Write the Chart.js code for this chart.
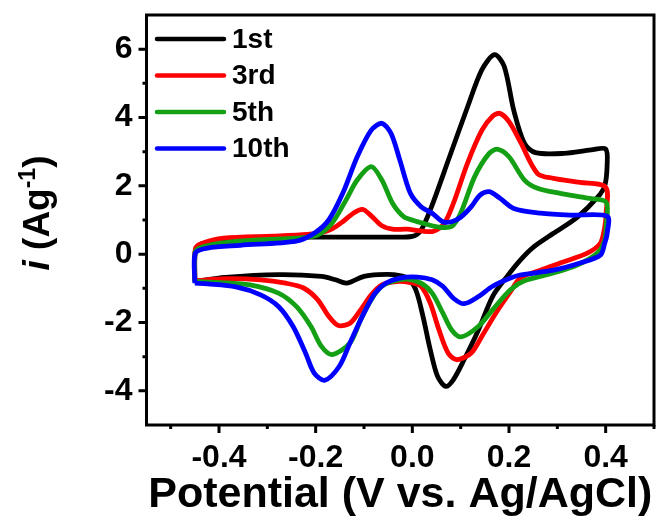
<!DOCTYPE html>
<html lang="en">
<head>
    <meta charset="UTF-8">
    <title>CV cycles</title>
    <style>
        body {
            margin: 0;
            background-color: #fff;
        }
        #chart-container {
            width: 662px;
            height: 521px;
        }
    </style>
    <script src="https://cdn.jsdelivr.net/npm/chart.js"></script>
</head>
<body>
    <div id="chart-container">
        <canvas id="cvChart" width="662" height="521"></canvas>
    </div>

    <script>
        // Potential (V) and current density (A/g), one closed loop per cycle:
        // forward sweep -0.45 -> 0.4 V, then back to -0.45 V
        const v1st = [-0.45, -0.449, -0.44, -0.41, -0.35, -0.25, -0.15, -0.05, 0.0, 0.018, 0.04, 0.077, 0.114, 0.144, 0.17, 0.19, 0.21, 0.232, 0.255, 0.314, 0.37, 0.4, 0.403, 0.398,
            0.383, 0.341, 0.292, 0.25, 0.223, 0.196, 0.166, 0.137, 0.107, 0.085, 0.069, 0.052, 0.037, 0.022, 0.007, -0.011, -0.04, -0.07, -0.1, -0.125, -0.137, -0.159, -0.188, -0.277, -0.387, -0.45];
        const i1st = [-0.80, 0.10, 0.28, 0.38, 0.45, 0.5, 0.5, 0.5, 0.52, 0.7, 1.4, 2.85, 4.3, 5.4, 5.84, 5.5, 4.2, 3.24, 2.97, 2.95, 3.05, 3.08, 2.6, 2.0,
            1.66, 1.08, 0.61, 0.2, -0.18, -0.65, -1.24, -2.21, -3.09, -3.67, -3.87, -3.57, -2.79, -1.82, -1.04, -0.70, -0.6, -0.6, -0.65, -0.8, -0.85, -0.75, -0.65, -0.6, -0.68, -0.80];

        const v3rd = [-0.45, -0.449, -0.438, -0.39, -0.287, -0.217, -0.188, -0.165, -0.144, -0.122, -0.103, -0.085, -0.063, -0.041, -0.011, 0.018, 0.044, 0.066, 0.085, 0.114, 0.144, 0.166, 0.181, 0.2, 0.223, 0.259, 0.292, 0.347, 0.4, 0.401, 0.398,
            0.389, 0.362, 0.312, 0.265, 0.223, 0.203, 0.173, 0.144, 0.122, 0.092, 0.074, 0.055, 0.037, 0.018, -0.004, -0.033, -0.063, -0.085, -0.107, -0.129, -0.153, -0.173, -0.196, -0.225, -0.262, -0.314, -0.387, -0.45];
        const i3rd = [-0.78, 0.15, 0.3, 0.47, 0.53, 0.58, 0.63, 0.75, 0.95, 1.2, 1.31, 1.12, 0.83, 0.73, 0.73, 0.68, 0.67, 0.9, 1.49, 2.66, 3.63, 4.04, 4.12, 3.88, 3.3, 2.36, 2.22, 2.1, 1.96, 1.2, 0.79,
            0.32, 0.03, -0.23, -0.47, -0.7, -1.1, -1.72, -2.4, -2.89, -3.09, -2.89, -2.21, -1.43, -0.94, -0.83, -0.8, -0.9, -1.19, -1.63, -2.02, -2.09, -1.82, -1.33, -0.99, -0.85, -0.75, -0.72, -0.78];

        const v5th = [-0.45, -0.449, -0.432, -0.387, -0.314, -0.24, -0.196, -0.166, -0.137, -0.114, -0.085, -0.063, -0.041, -0.018, 0.004, 0.026, 0.055, 0.081, 0.1, 0.129, 0.159, 0.177, 0.2, 0.232, 0.259, 0.306, 0.362, 0.401, 0.401, 0.398,
            0.383, 0.341, 0.292, 0.232, 0.203, 0.166, 0.137, 0.101, 0.081, 0.063, 0.041, 0.018, -0.011, -0.041, -0.063, -0.085, -0.107, -0.129, -0.166, -0.188, -0.21, -0.24, -0.277, -0.336, -0.395, -0.45];
        const i5th = [-0.8, 0.08, 0.22, 0.34, 0.42, 0.47, 0.56, 0.91, 1.59, 2.17, 2.56, 2.17, 1.49, 1.1, 0.98, 0.89, 0.79, 0.81, 1.2, 2.27, 2.95, 3.07, 2.85, 2.17, 1.93, 1.78, 1.64, 1.52, 0.8, 0.41,
            0.03, -0.32, -0.55, -0.78, -1.04, -1.63, -2.11, -2.42, -2.21, -1.72, -1.14, -0.85, -0.73, -0.8, -0.94, -1.33, -1.92, -2.6, -2.94, -2.7, -2.11, -1.53, -1.14, -0.9, -0.83, -0.8];

        const v10th = [-0.45, -0.449, -0.424, -0.356, -0.24, -0.203, -0.173, -0.144, -0.114, -0.085, -0.063, -0.044, -0.026, -0.004, 0.018, 0.041, 0.063, 0.081, 0.1, 0.122, 0.14, 0.159, 0.181, 0.21, 0.265, 0.327, 0.403, 0.403, 0.398,
            0.389, 0.347, 0.292, 0.223, 0.203, 0.166, 0.137, 0.107, 0.085, 0.063, 0.041, 0.011, -0.026, -0.055, -0.077, -0.1, -0.129, -0.151, -0.181, -0.203, -0.221, -0.247, -0.277, -0.314, -0.365, -0.424, -0.45];
        const i10th = [-0.85, 0.03, 0.18, 0.26, 0.38, 0.61, 1.0, 1.78, 2.85, 3.63, 3.83, 3.53, 2.76, 1.78, 1.39, 1.2, 0.95, 0.95, 1.08, 1.39, 1.73, 1.83, 1.64, 1.34, 1.2, 1.14, 1.11, 0.6, 0.32,
            -0.03, -0.26, -0.47, -0.61, -0.7, -0.94, -1.24, -1.45, -1.29, -0.94, -0.75, -0.67, -0.7, -0.85, -1.14, -1.72, -2.6, -3.28, -3.69, -3.48, -2.89, -2.11, -1.53, -1.19, -0.96, -0.87, -0.85];

        const cycleLabels = ['1st', '3rd', '5th', '10th'];
        const cycleColors = ['#000000', '#ff0000', '#14a014', '#0000ff'];

        const xMajor = [-0.4, -0.2, 0.0, 0.2, 0.4];
        const xMinor = [-0.5, -0.3, -0.1, 0.1, 0.3, 0.5];
        const xTickLabels = ['-0.4', '-0.2', '0.0', '0.2', '0.4'];
        const yMajor = [-4, -2, 0, 2, 4, 6];
        const yMinor = [-3, -1, 1, 3, 5];
        const yTickLabels = ['-4', '-2', '0', '2', '4', '6'];

        const FONT = 'Arial, "Liberation Sans", sans-serif';

        function toPoints(vs, is) {
            return vs.map((v, k) => ({ x: v, y: is[k] }));
        }

        const series = [[v1st, i1st], [v3rd, i3rd], [v5th, i5th], [v10th, i10th]];

        // frame box + outward ticks (major long, minor short)
        const framePlugin = {
            id: 'frame',
            afterDraw(chart) {
                const { ctx, chartArea: a, scales: { x, y } } = chart;
                ctx.save();
                ctx.strokeStyle = '#000';
                ctx.lineWidth = 3;
                ctx.strokeRect(a.left, a.top, a.right - a.left, a.bottom - a.top);
                ctx.beginPath();
                xMajor.forEach(v => { const px = x.getPixelForValue(v); ctx.moveTo(px, a.bottom); ctx.lineTo(px, a.bottom + 8); });
                xMinor.forEach(v => { const px = x.getPixelForValue(v); ctx.moveTo(px, a.bottom); ctx.lineTo(px, a.bottom + 4); });
                yMajor.forEach(v => { const py = y.getPixelForValue(v); ctx.moveTo(a.left, py); ctx.lineTo(a.left - 8, py); });
                yMinor.forEach(v => { const py = y.getPixelForValue(v); ctx.moveTo(a.left, py); ctx.lineTo(a.left - 4, py); });
                ctx.stroke();
                ctx.restore();
            }
        };

        // y title with italic i and superscript
        const yTitlePlugin = {
            id: 'yTitle',
            afterDraw(chart) {
                const { ctx } = chart;
                const parts = [
                    { t: 'i', f: 'italic bold 37px ' + FONT, dy: 0 },
                    { t: ' (Ag', f: 'bold 37px ' + FONT, dy: 0 },
                    { t: '-1', f: 'bold 23px ' + FONT, dy: -14 },
                    { t: ')', f: 'bold 37px ' + FONT, dy: 0 }
                ];
                ctx.save();
                let total = 0;
                parts.forEach(p => { ctx.font = p.f; p.w = ctx.measureText(p.t).width; total += p.w; });
                ctx.translate(49, 213);
                ctx.rotate(-Math.PI / 2);
                ctx.fillStyle = '#000';
                ctx.textBaseline = 'alphabetic';
                let cx = -total / 2;
                parts.forEach(p => { ctx.font = p.f; ctx.fillText(p.t, cx, p.dy); cx += p.w; });
                ctx.restore();
            }
        };

        // legend in the top-left corner of the plot
        const legendPlugin = {
            id: 'cycleLegend',
            afterDraw(chart) {
                const { ctx } = chart;
                ctx.save();
                ctx.font = 'bold 28px ' + FONT;
                ctx.textBaseline = 'middle';
                ctx.lineCap = 'round';
                chart.data.datasets.forEach((ds, k) => {
                    const rowY = 39 + k * 36.5;
                    ctx.strokeStyle = ds.borderColor;
                    ctx.lineWidth = 4.5;
                    ctx.beginPath();
                    ctx.moveTo(157, rowY);
                    ctx.lineTo(224, rowY);
                    ctx.stroke();
                    ctx.fillStyle = '#000';
                    ctx.fillText(ds.label, 232, rowY + 1);
                });
                ctx.restore();
            }
        };

        const noPad = scale => {
            scale.paddingTop = 0;
            scale.paddingBottom = 0;
            scale.paddingLeft = 0;
            scale.paddingRight = 0;
        };

        const ctx = document.getElementById('cvChart').getContext('2d');
        new Chart(ctx, {
            type: 'scatter',
            data: {
                datasets: series.map((s, k) => ({
                    label: cycleLabels[k],
                    data: toPoints(s[0], s[1]),
                    showLine: true,
                    borderColor: cycleColors[k],
                    backgroundColor: cycleColors[k],
                    borderWidth: 4.8,
                    pointRadius: 0,
                    tension: 0.3,
                    order: series.length - k
                }))
            },
            options: {
                responsive: false,
                animation: false,
                devicePixelRatio: 1,
                layout: { padding: { top: 15, right: 8, left: 0, bottom: 0 } },
                plugins: {
                    legend: { display: false },
                    tooltip: { enabled: false }
                },
                scales: {
                    x: {
                        type: 'linear',
                        min: -0.55,
                        max: 0.5,
                        grid: { display: false, drawTicks: false },
                        border: { display: false },
                        afterBuildTicks: scale => { scale.ticks = xMajor.map(v => ({ value: v })); },
                        afterFit: scale => { scale.height = 96; noPad(scale); },
                        ticks: {
                            padding: 14,
                            color: '#000',
                            font: { family: FONT, size: 32, weight: 'bold' },
                            callback: (val, idx) => xTickLabels[idx]
                        },
                        title: {
                            display: true,
                            text: 'Potential (V vs. Ag/AgCl)',
                            color: '#000',
                            font: { family: FONT, size: 43, weight: 'bold' },
                            padding: { top: 0, bottom: 0 }
                        }
                    },
                    y: {
                        type: 'linear',
                        min: -5,
                        max: 7,
                        grid: { display: false, drawTicks: false },
                        border: { display: false },
                        afterBuildTicks: scale => { scale.ticks = yMajor.map(v => ({ value: v })); },
                        afterFit: scale => { scale.width = 146.5; noPad(scale); },
                        ticks: {
                            padding: 14,
                            color: '#000',
                            font: { family: FONT, size: 32, weight: 'bold' },
                            callback: (val, idx) => yTickLabels[idx]
                        }
                    }
                }
            },
            plugins: [framePlugin, yTitlePlugin, legendPlugin]
        });
    </script>
</body>
</html>
